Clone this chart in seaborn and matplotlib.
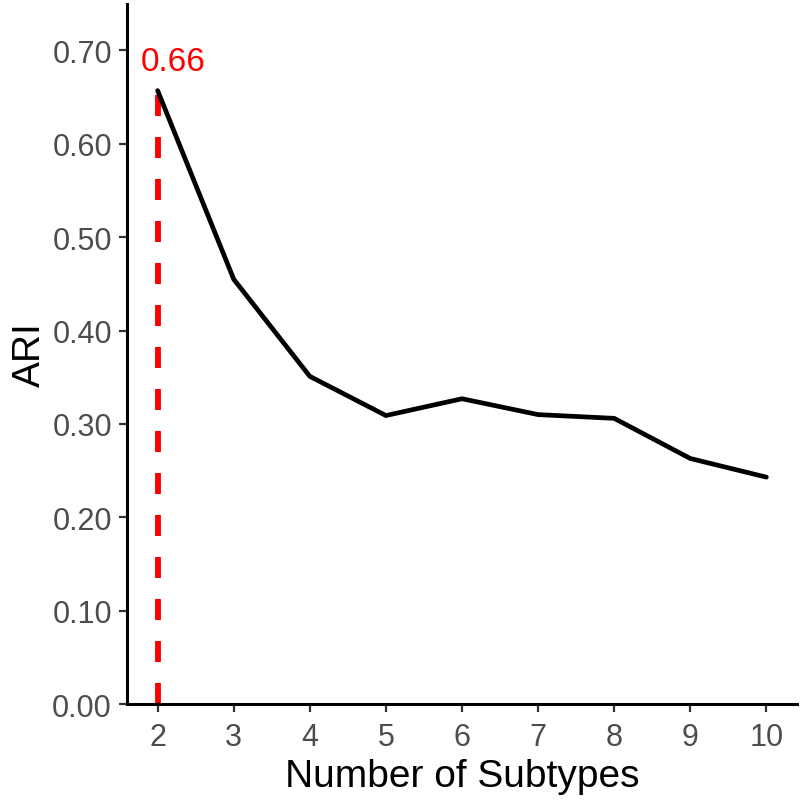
import matplotlib
matplotlib.use("Agg")
import matplotlib.pyplot as plt
import seaborn as sns
import pandas as pd

# Data
n_subtypes = [2, 3, 4, 5, 6, 7, 8, 9, 10]
ari = [0.657, 0.455, 0.351, 0.309, 0.327, 0.310, 0.306, 0.263, 0.243]
best_k = 2
best_ari = 0.657
best_label = "0.66"
y_ticks = [0.0, 0.1, 0.2, 0.3, 0.4, 0.5, 0.6, 0.7]
y_tick_labels = ["0.00", "0.10", "0.20", "0.30", "0.40", "0.50", "0.60", "0.70"]

df = pd.DataFrame({"k": n_subtypes, "ari": ari})

sns.set_theme(style="ticks")
plt.rcParams["font.family"] = ["Liberation Sans", "DejaVu Sans"]

fig = plt.figure(figsize=(8.0, 8.03), dpi=100)
ax = fig.add_axes([0.159, 0.122, 0.837, 0.872])

# red dashed segment at best k
ax.plot([best_k, best_k], [0, best_ari], color="#FF0000", linewidth=4.2,
        dashes=(3.6, 3.6), solid_capstyle="butt", zorder=2)

sns.lineplot(data=df, x="k", y="ari", ax=ax, color="black", linewidth=3.4, zorder=3)

ax.text(best_k + 0.2, best_ari + 0.031, best_label, color="#FF0000",
        fontsize=24, ha="center", va="center")

ax.set_xlim(1.6, 10.4)
ax.set_ylim(0, 0.75)
ax.set_xticks(n_subtypes)
ax.set_xticklabels([str(k) for k in n_subtypes])
ax.set_yticks(y_ticks)
ax.set_yticklabels(y_tick_labels)

ax.set_xlabel("Number of Subtypes", fontsize=28, color="black", labelpad=4)
ax.set_ylabel("ARI", fontsize=28, color="black", labelpad=3)

for s in ["top", "right"]:
    ax.spines[s].set_visible(False)
for s in ["left", "bottom"]:
    ax.spines[s].set_linewidth(2.2)
    ax.spines[s].set_color("black")

ax.tick_params(axis="both", which="major", length=6, width=1.6, color="#333333",
               labelsize=22, labelcolor="#4D4D4D", pad=5)
ax.tick_params(axis="x", pad=7)

fig.savefig("out.png", dpi=100)
